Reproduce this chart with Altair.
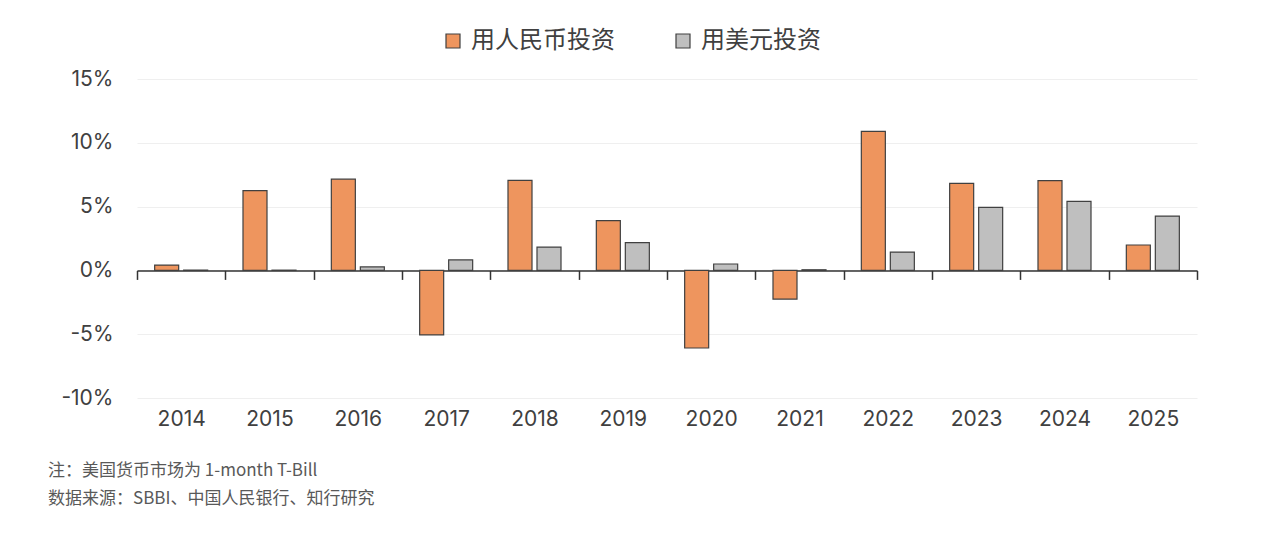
import altair as alt
import pandas as pd

years = ["2014", "2015", "2016", "2017", "2018", "2019", "2020", "2021", "2022", "2023", "2024", "2025"]
series_names = ["用人民币投资", "用美元投资"]
cny_returns = [0.42, 6.25, 7.15, -5.06, 7.05, 3.9, -6.08, -2.25, 10.9, 6.82, 7.03, 1.99]
usd_returns = [0.03, 0.02, 0.27, 0.82, 1.83, 2.17, 0.5, 0.05, 1.44, 4.94, 5.41, 4.26]
y_ticks = [-10, -5, 0, 5, 10, 15]
notes = ["注：美国货币市场为 1-month T-Bill", "数据来源：SBBI、中国人民银行、知行研究"]

rows = []
for i, yr in enumerate(years):
    rows.append({"year": yr, "series": series_names[0], "value": cny_returns[i]})
    rows.append({"year": yr, "series": series_names[1], "value": usd_returns[i]})
df = pd.DataFrame(rows)

PLOT_W = 1060
PLOT_H = 319
zero_from_bottom = PLOT_H * 10 / 25

chart = alt.Chart(df).mark_bar(stroke="#404040", strokeWidth=1.2).encode(
    x=alt.X(
        "year:N",
        sort=years,
        scale=alt.Scale(paddingInner=0, paddingOuter=0),
        axis=alt.Axis(
            title=None,
            tickBand="extent",
            offset=-zero_from_bottom,
            labelPadding=129,
            tickSize=9,
            tickWidth=1.5,
            domainWidth=1.5,
            domainColor="#333333",
            tickColor="#333333",
            labelFont="Inter",
            labelFontSize=21,
            labelColor="#404040",
            labelAngle=0,
            grid=False,
        ),
    ),
    xOffset=alt.XOffset(
        "series:N",
        sort=series_names,
        scale=alt.Scale(paddingInner=0.172, paddingOuter=0.609),
    ),
    y=alt.Y(
        "value:Q",
        scale=alt.Scale(domain=[-10, 15], nice=False, zero=True),
        axis=alt.Axis(
            title=None,
            values=y_ticks,
            labelExpr="datum.value + '%'",
            domain=False,
            ticks=False,
            labelPadding=24,
            labelFont="Inter",
            labelFontSize=21,
            labelColor="#404040",
            gridColor="#efefef",
            gridWidth=1,
        ),
    ),
    color=alt.Color(
        "series:N",
        sort=series_names,
        scale=alt.Scale(domain=series_names, range=["#EE955E", "#BFBFBF"]),
        legend=alt.Legend(
            title=None,
            orient="none",
            direction="horizontal",
            legendX=304,
            legendY=-50,
            symbolType="square",
            symbolSize=196,
            symbolStrokeColor="#404040",
            symbolStrokeWidth=1.2,
            symbolOpacity=1,
            labelFont="Noto Sans CJK SC",
            labelFontSize=24,
            labelColor="#404040",
            labelOffset=6,
            columnPadding=56,
        ),
    ),
).properties(
    width=PLOT_W,
    height=PLOT_H,
    title=alt.Title(
        text=notes,
        orient="bottom",
        anchor="start",
        frame="group",
        dx=-89,
        offset=34,
        font="Noto Sans CJK SC",
        fontSize=17,
        fontWeight="normal",
        color="#595959",
        lineHeight=28,
    ),
    autosize=alt.AutoSizeParams(type="none"),
    padding={"left": 129, "top": 71, "right": 60, "bottom": 140},
).configure_view(stroke=None)

chart.save("out.html", embed_options={"renderer": "svg", "actions": False})
